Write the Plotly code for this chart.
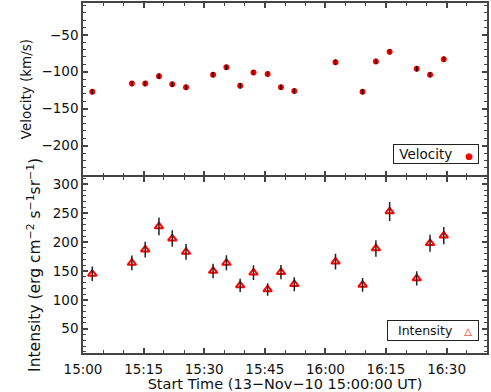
import plotly.graph_objects as go
from plotly.subplots import make_subplots

day = "2010-11-13 "
times = ["15:02:18", "15:12:06", "15:15:24", "15:18:48", "15:22:06", "15:25:30",
         "15:32:12", "15:35:30", "15:38:54", "15:42:12", "15:45:42", "15:49:00",
         "15:52:18", "16:02:30", "16:09:12", "16:12:30", "16:15:54", "16:22:36",
         "16:25:54", "16:29:18"]
velocity = [-127, -116, -116, -106, -117, -121, -104, -94, -119, -101, -103, -121,
            -126, -87, -127, -86, -73, -96, -104, -83]
velocity_err = [3.5] * 20
intensity = [145, 164, 187, 227, 206, 183, 150, 164, 125, 147, 118, 148,
             127, 166, 126, 189, 253, 137, 198, 211]
intensity_err = [12.5, 12.8, 13.7, 15.4, 14.3, 13.7, 12.5, 13.0, 11.4, 12.8, 10.8, 12.5,
                 12.0, 13.7, 12.0, 14.3, 16.5, 12.3, 14.8, 15.0]

x = [day + t for t in times]

fig = make_subplots(rows=2, cols=1, shared_xaxes=True, vertical_spacing=0)

fig.add_trace(go.Scatter(x=x, y=velocity, mode="markers",
                         marker=dict(symbol="circle", size=6, color="#ff0000"),
                         showlegend=False), row=1, col=1)
fig.add_trace(go.Scatter(x=x, y=velocity, mode="markers",
                         marker=dict(size=1, color="rgba(0,0,0,0)"),
                         error_y=dict(type="data", array=velocity_err, color="black",
                                      thickness=1.5, width=0),
                         showlegend=False), row=1, col=1)
fig.add_trace(go.Scatter(x=x, y=intensity, mode="markers",
                         marker=dict(symbol="triangle-up-open", size=7.5, color="#ff0000",
                                     line=dict(width=2, color="#ff0000")),
                         showlegend=False), row=2, col=1)
fig.add_trace(go.Scatter(x=x, y=intensity, mode="markers",
                         marker=dict(size=1, color="rgba(0,0,0,0)"),
                         error_y=dict(type="data", array=intensity_err, color="#222222",
                                      thickness=1.5, width=0),
                         showlegend=False), row=2, col=1)

axis_common = dict(showline=True, linecolor="#444444", linewidth=1.5, mirror="ticks",
                   ticks="inside", tickcolor="#444444", tickwidth=1.5, ticklen=5,
                   showgrid=False, zeroline=False, automargin=False,
                   tickfont=dict(family="DejaVu Sans", size=13.5, color="#111111"))

xr = [day + "15:00:00", day + "16:40:00"]
fig.update_xaxes(**axis_common, type="date", range=xr, dtick=900000, tickformat="%H:%M",
                 tick0=day + "15:00:00", ticklabelstandoff=3,
                 minor=dict(dtick=300000, ticks="inside", ticklen=3, tickcolor="#444444",
                            tickwidth=1.2))
fig.update_xaxes(showticklabels=False, row=1, col=1)
fig.update_xaxes(title=dict(text="Start Time (13\u2212Nov\u221210 15:00:00 UT)",
                            font=dict(family="DejaVu Sans", size=14.5, color="#111111"),
                            standoff=2),
                 row=2, col=1)

split = 0.5057
half_line = 0.75 / 350
fig.update_yaxes(**axis_common)
fig.update_yaxes(range=[-240, -7], dtick=50, tick0=0,
                 minor=dict(dtick=10, ticks="inside", ticklen=3, tickcolor="#444444",
                            tickwidth=1.2),
                 domain=[split + half_line, 1.0],
                 title=dict(text="Velocity (km/s)",
                            font=dict(family="DejaVu Sans", size=13.5, color="#111111"),
                            standoff=7),
                 row=1, col=1)
fig.update_yaxes(range=[8, 313], dtick=50, tick0=0,
                 minor=dict(dtick=10, ticks="inside", ticklen=3, tickcolor="#444444",
                            tickwidth=1.2),
                 domain=[0.0, split - half_line],
                 title=dict(text="Intensity (erg cm<sup>\u22122</sup> s<sup>\u22121</sup>sr<sup>\u22121</sup>)",
                            font=dict(family="DejaVu Sans", size=15.5, color="#111111"),
                            standoff=8),
                 row=2, col=1)

fig.add_annotation(xref="paper", yref="paper", x=0.98, y=0.54, xanchor="right",
                   yanchor="bottom", showarrow=False,
                   text="&nbsp;Velocity &nbsp;&nbsp;<span style='color:#ff0000;font-size:9px'>\u25cf</span>&nbsp;",
                   font=dict(family="DejaVu Sans", size=13.5, color="#111111"),
                   bordercolor="#222222", borderwidth=1, borderpad=1, bgcolor="white")
fig.add_annotation(xref="paper", yref="paper", x=0.98, y=0.034, xanchor="right",
                   yanchor="bottom", showarrow=False,
                   text="&nbsp;&nbsp;Intensity &nbsp;&nbsp;<span style='color:#ff0000;font-size:10px'>\u25b3</span>&nbsp;",
                   font=dict(family="DejaVu Sans", size=12.5, color="#111111"),
                   bordercolor="#222222", borderwidth=1, borderpad=2, bgcolor="white")

fig.update_layout(width=491, height=392, margin=dict(l=83, r=4, t=3, b=39),
                  plot_bgcolor="white", paper_bgcolor="white", showlegend=False)

fig.write_html("out.html", config={"displayModeBar": False},
               post_script="document.body.style.margin='0';document.body.style.overflow='hidden';")
